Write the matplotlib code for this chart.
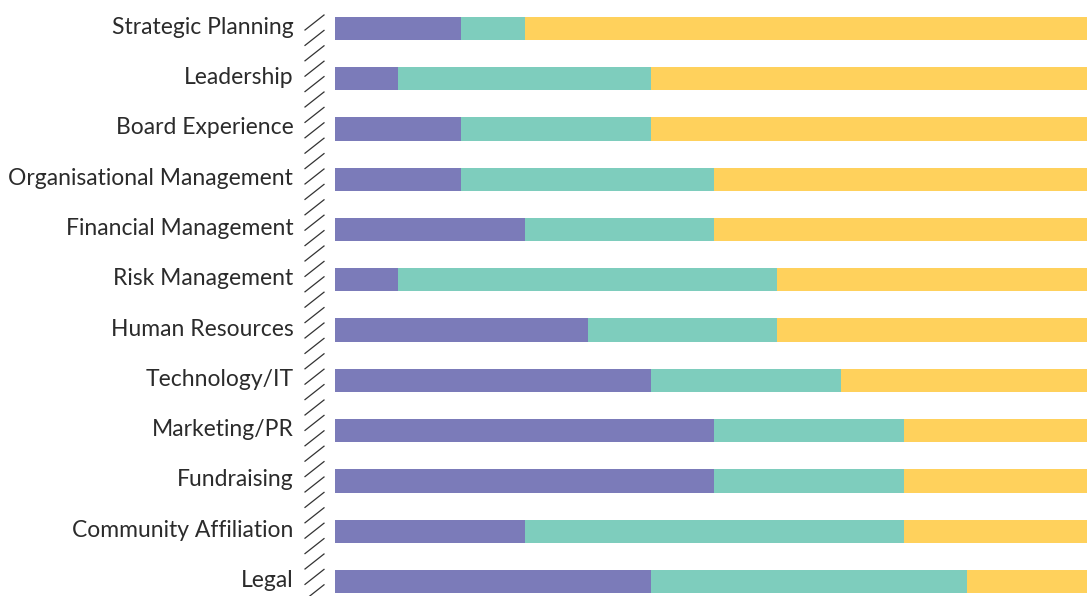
import matplotlib
matplotlib.use("Agg")
import matplotlib.pyplot as plt
from matplotlib.lines import Line2D
from matplotlib.transforms import ScaledTranslation
import numpy as np

categories = ["Strategic Planning", "Leadership", "Board Experience",
              "Organisational Management", "Financial Management",
              "Risk Management", "Human Resources", "Technology/IT",
              "Marketing/PR", "Fundraising", "Community Affiliation", "Legal"]
series_a = [2, 1, 2, 2, 3, 1, 4, 5, 6, 6, 3, 5]
series_b = [1, 4, 3, 4, 3, 6, 3, 3, 3, 3, 6, 5]
series_c = [9, 7, 7, 6, 6, 5, 5, 4, 3, 3, 3, 2]
colors = ["#7b7bb9", "#7ecdbd", "#ffd15c"]

W, H = 1087, 596
fig = plt.figure(figsize=(W / 100, H / 100), dpi=100)
ax = fig.add_axes([335 / W, 0, 1 - 335 / W, 1])

y = np.arange(len(categories))
a = np.array(series_a, float)
b = np.array(series_b, float)
c = np.array(series_c, float)
h = 0.463
ax.barh(y, a, height=h, color=colors[0], linewidth=0)
ax.barh(y, b, left=a, height=h, color=colors[1], linewidth=0)
ax.barh(y, c, left=a + b, height=h, color=colors[2], linewidth=0)

ax.set_xlim(0, 11.9)
ax.set_ylim(11.288, -0.563)
ax.set_yticks(y)
ax.set_yticklabels(categories, fontsize=16.5, color="#2b2b2b", family=["Lato", "DejaVu Sans"])
ax.tick_params(axis="y", length=0, pad=30)
off = ScaledTranslation(0, 3 / 100, fig.dpi_scale_trans)
for lab in ax.get_yticklabels():
    lab.set_transform(lab.get_transform() + off)
ax.set_xticks([])
for s in ax.spines.values():
    s.set_visible(False)

# decorative diagonal axis marks
py = 15.0
while py < H:
    x0, x1 = 305, 324
    fig.add_artist(Line2D([x0 / W, x1 / W], [1 - (py + 15) / H, 1 - py / H],
                          transform=fig.transFigure, color="#333333", linewidth=0.9))
    py += 15.4

fig.savefig("out.png", dpi=100)
